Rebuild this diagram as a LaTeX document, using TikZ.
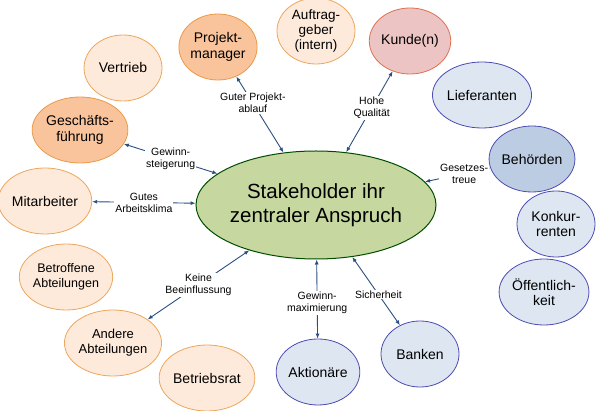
\documentclass[tikz,border=0pt]{standalone}
\usepackage{fontspec}
\setmainfont{Liberation Sans}
\usetikzlibrary{shapes.geometric,arrows.meta}
\definecolor{lpeach}{HTML}{FDEADA}
\definecolor{dpeach}{HTML}{F9C49B}
\definecolor{pinkk}{HTML}{EBC4C3}
\definecolor{lblue}{HTML}{DDE6F1}
\definecolor{dblue}{HTML}{BCCDE3}
\definecolor{cgreen}{HTML}{C6D8A0}
\definecolor{arr}{HTML}{2A4F80}
\tikzset{x=1pt,y=-1pt,
 st/.style={ellipse,draw,line width=0.8pt,align=center,font=\fontsize{14}{15.5}\selectfont,inner sep=0pt,minimum width=78pt,minimum height=66pt},
 pe/.style={st,fill=lpeach,draw=orange!60!brown!70},
 dp/.style={st,fill=dpeach,draw=orange!60!brown!80},
 pk/.style={st,fill=pinkk,draw=red!40!brown!80},
 lb/.style={st,fill=lblue,draw=blue!40!gray},
 db/.style={st,fill=dblue,draw=blue!40!gray},
 lab/.style={fill=white,align=center,font=\fontsize{10.5}{12}\selectfont,inner sep=1pt},
 con/.style={draw=arr,line width=0.9pt,{Latex[length=5pt,width=4pt]}-{Latex[length=5pt,width=4pt]}}}
\begin{document}
\begin{tikzpicture}
\useasboundingbox (0,0) rectangle (600,411);
\node[ellipse,draw=green!30!black,line width=1pt,fill=cgreen,inner sep=-4pt,minimum width=240pt,minimum height=108pt,align=center,font=\fontsize{20.5}{24}\selectfont] (c) at (316,205) {Stakeholder ihr\\zentraler Anspruch};
\node[pe] (vt) at (123,68) {Vertrieb};
\node[dp] (pm) at (218,47) {Projekt-\\manager};
\node[pe,font=\fontsize{13.5}{15}\selectfont] (ag) at (316,31) {Auftrag-\\geber\\(intern)};
\node[pk] (ku) at (410,41) {Kunde(n)};
\node[lb] (li) at (482,95) {Lieferanten};
\node[db] (be) at (532,159) {Behörden};
\node[lb] (ko) at (556,224) {Konkur-\\renten};
\node[lb] (oe) at (544,292) {Öffentlich-\\keit};
\node[lb] (ba) at (420,354) {Banken};
\node[lb] (ak) at (318,372) {Aktionäre};
\node[pe] (br) at (207,378) {Betriebsrat};
\node[pe,font=\fontsize{13}{15}\selectfont] (aa) at (113,343) {Andere\\Abteilungen};
\node[pe,font=\fontsize{12.5}{14.5}\selectfont] (ba2) at (66,277) {Betroffene\\Abteilungen};
\node[pe] (mi) at (45,201) {Mitarbeiter};
\node[dp] (gf) at (80,130) {Geschäfts-\\führung};
\draw[con] (gf) -- node[lab,pos=0.5]{Gewinn-\\steigerung} (c);
\draw[con] (mi) -- node[lab,pos=0.5]{Gutes\\Arbeitsklima} (c);
\draw[con] (pm) -- node[lab,pos=0.35]{Guter Projekt-\\ablauf} (c);
\draw[con] (ku) -- node[lab,pos=0.45]{Hohe\\Qualität} (c);
\draw[con] (be) -- node[lab,pos=0.4]{Gesetzes-\\treue} (c);
\draw[con] (ba) -- node[lab,pos=0.45]{Sicherheit} (c);
\draw[con] (ak) -- node[lab,pos=0.45]{Gewinn-\\maximierung} (c);
\draw[con] (aa) -- node[lab,pos=0.5]{Keine\\Beeinflussung} (c);
\end{tikzpicture}
\end{document}
